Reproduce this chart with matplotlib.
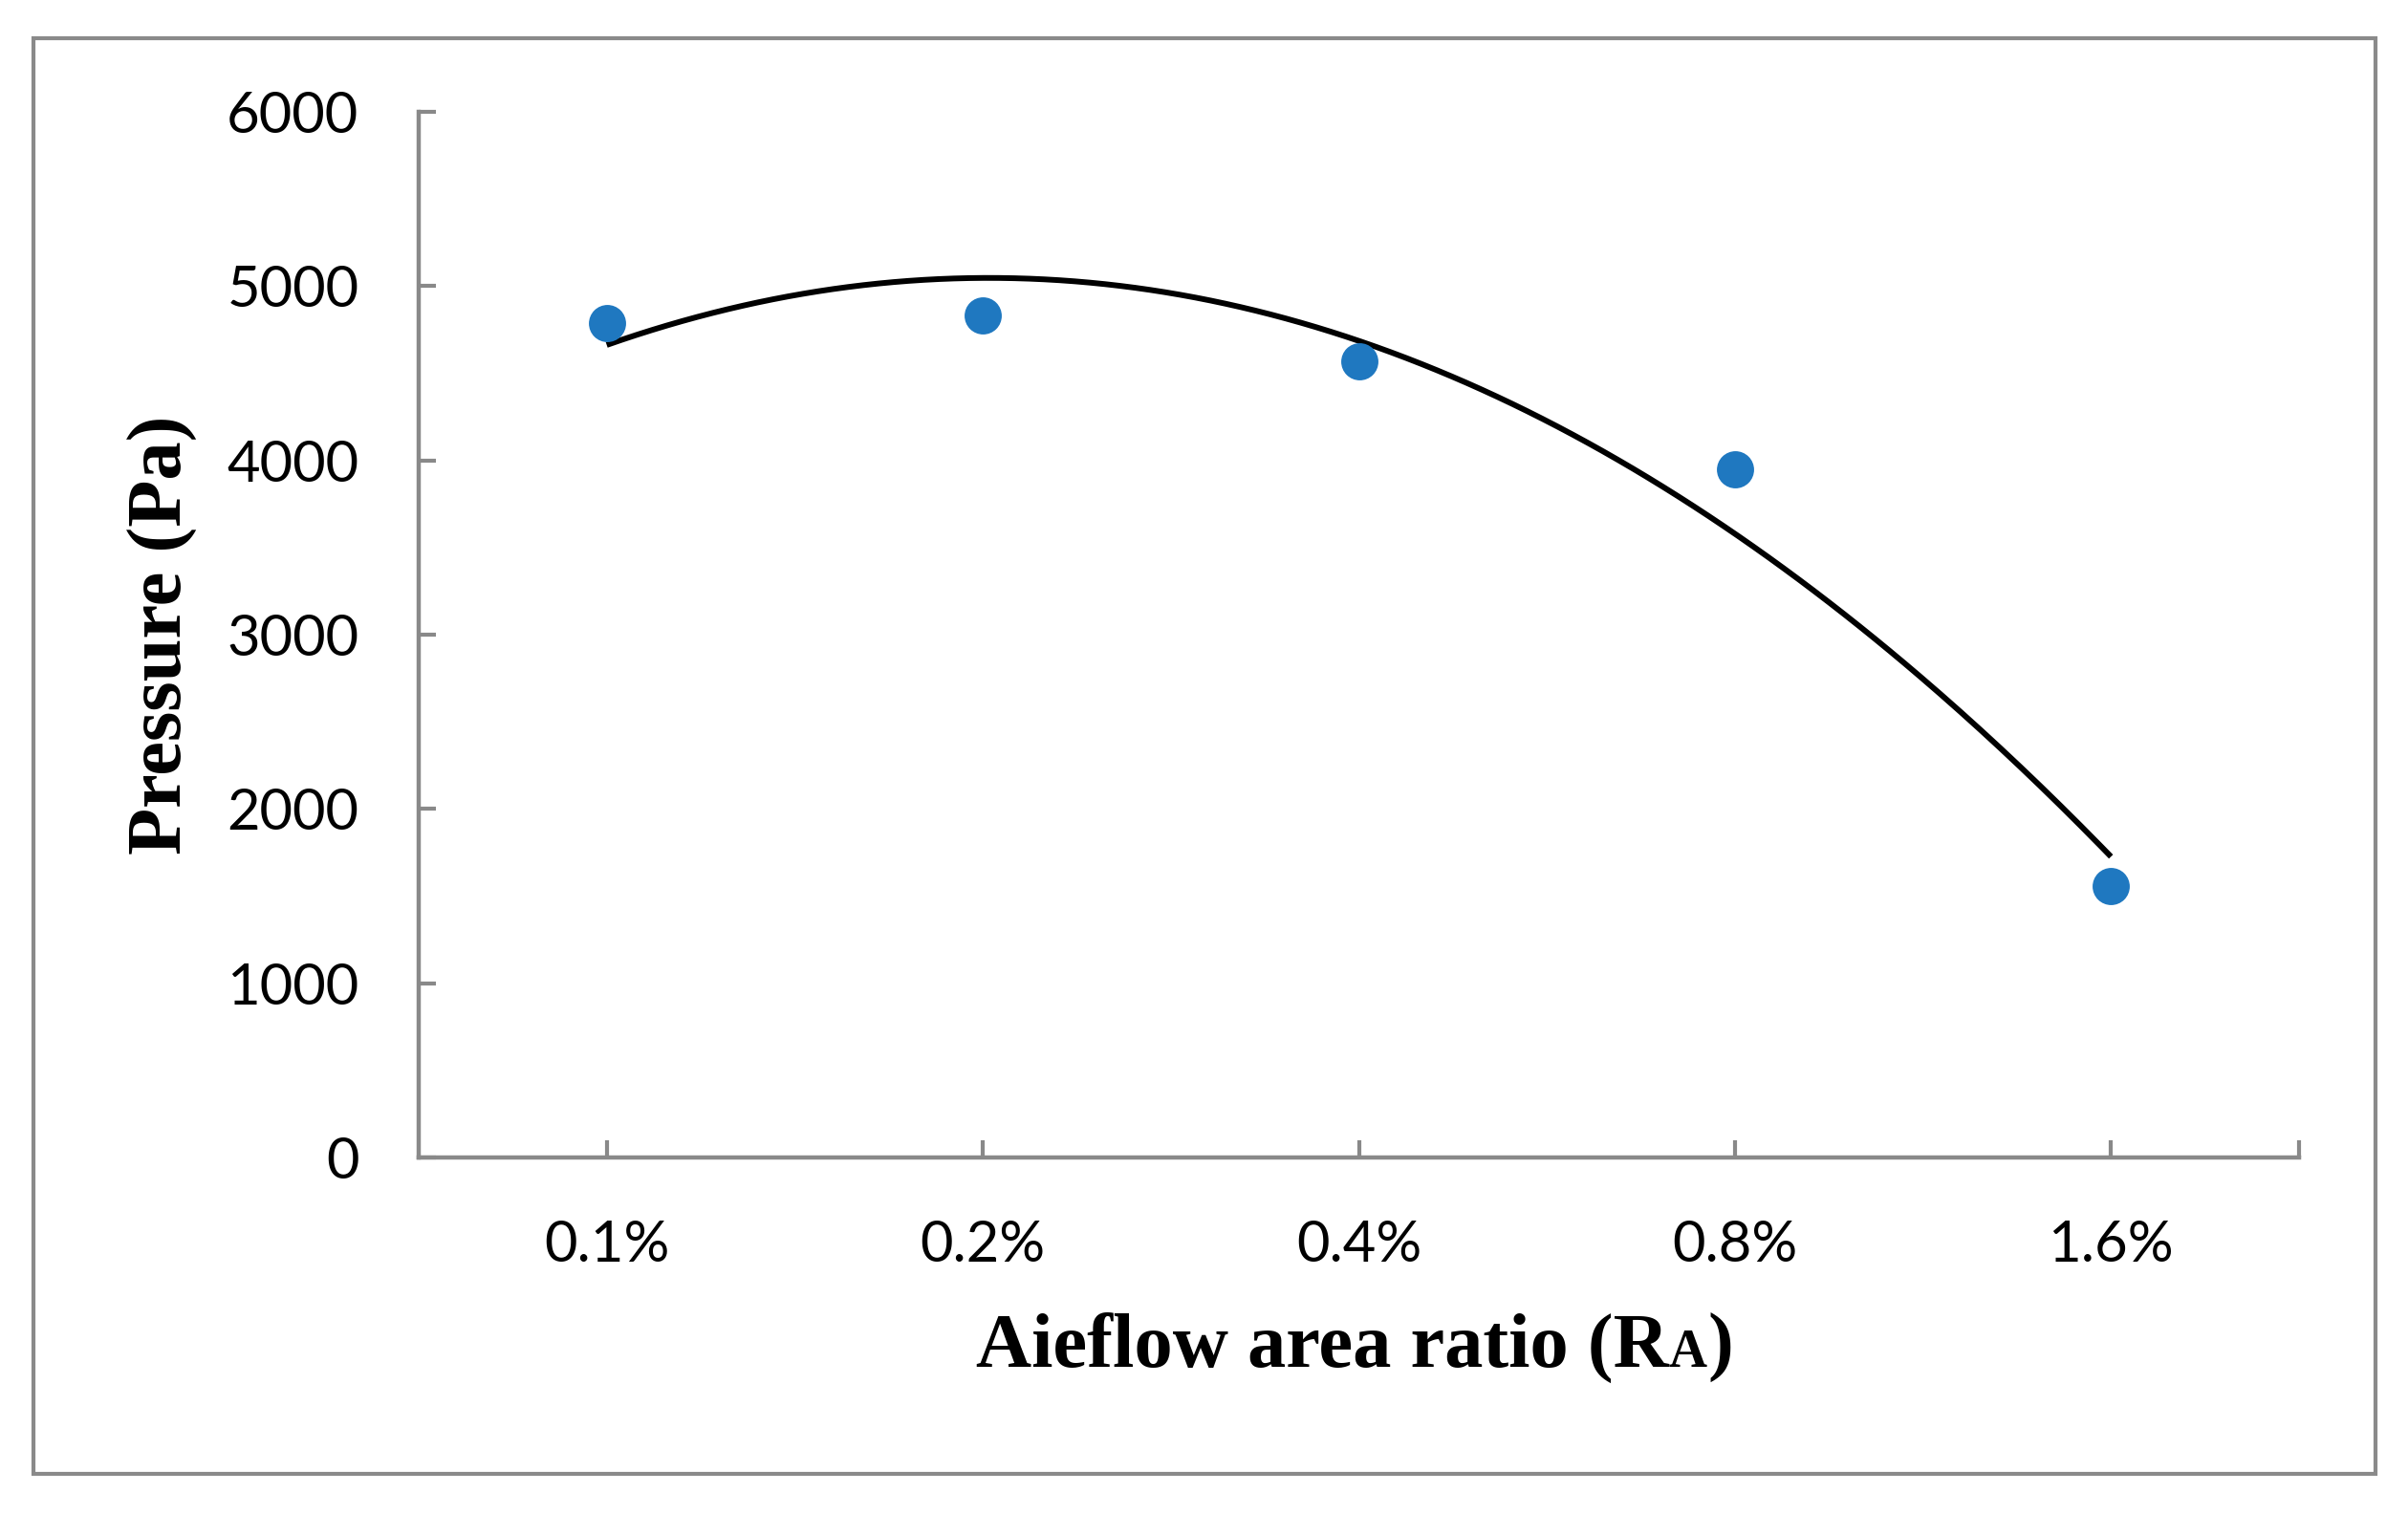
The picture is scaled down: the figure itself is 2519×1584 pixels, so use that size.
import numpy as np
import matplotlib
matplotlib.use("Agg")
import matplotlib.pyplot as plt
from matplotlib.patches import Rectangle
from matplotlib.offsetbox import TextArea, HPacker, AnnotationBbox

categories = ["0.1%", "0.2%", "0.4%", "0.8%", "1.6%"]
pressure = [4790, 4830, 4570, 3950, 1560]
y_ticks = [0, 1000, 2000, 3000, 4000, 5000, 6000]

W, H = 2519, 1584
fig = plt.figure(figsize=(W / 100, H / 100), dpi=100)
fig.patch.set_facecolor("white")

# outer chart-area border
fig.patches.append(Rectangle((35 / W, 1 - 1542 / H), (2485 - 35) / W, (1542 - 40) / H,
                             transform=fig.transFigure, fill=False,
                             edgecolor="#8a8a8a", linewidth=3.0, zorder=0))

ax = fig.add_axes([438 / W, 1 - 1211 / H, (2405 - 438) / W, (1211 - 117) / H])

x = np.arange(len(categories))
ax.scatter(x, pressure, s=28 ** 2, color="#1F78C0", zorder=3, linewidths=0)

# second-order polynomial trendline (Excel-style, on category index)
coef = np.polyfit(x + 1, pressure, 2)
xs = np.linspace(0, len(categories) - 1, 300)
ax.plot(xs, np.polyval(coef, xs + 1), color="black", linewidth=4.3, zorder=2,
        solid_capstyle="butt")

ax.set_xlim(-0.5, len(categories) - 0.5)
ax.set_ylim(y_ticks[0], y_ticks[-1])
ax.set_yticks(y_ticks)
ax.set_yticklabels([str(v) for v in y_ticks])
ax.set_xticks(list(x) + [len(categories) - 0.5])
ax.set_xticklabels(categories + [""])

for s in ["top", "right"]:
    ax.spines[s].set_visible(False)
for s in ["left", "bottom"]:
    ax.spines[s].set_color("#898989")
    ax.spines[s].set_linewidth(3.2)

ax.tick_params(axis="both", direction="in", length=13, width=3.0, color="#898989",
               labelsize=43, labelcolor="black")
ax.tick_params(axis="y", pad=45)
ax.tick_params(axis="x", pad=47)
for lab in ax.get_xticklabels() + ax.get_yticklabels():
    lab.set_family("Lato")

ax.set_ylabel("Pressure (Pa)", fontsize=58, fontweight="bold",
              family="Liberation Serif", labelpad=22)

# x label with small-capital "A" on the baseline
tp = dict(fontsize=58, fontweight="bold", family="Liberation Serif", color="black")
tsmall = dict(fontsize=40, fontweight="bold", family="Liberation Serif", color="black")
box = HPacker(children=[TextArea("Aieflow area ratio (R", textprops=tp),
                        TextArea("A", textprops=tsmall),
                        TextArea(")", textprops=tp)],
              align="baseline", pad=0, sep=0)
ab = AnnotationBbox(box, (1417 / W, 1 - 1410 / H), xycoords="figure fraction",
                    frameon=False, box_alignment=(0.5, 0.5))
fig.add_artist(ab)

fig.savefig("out.png", dpi=100, facecolor="white")
